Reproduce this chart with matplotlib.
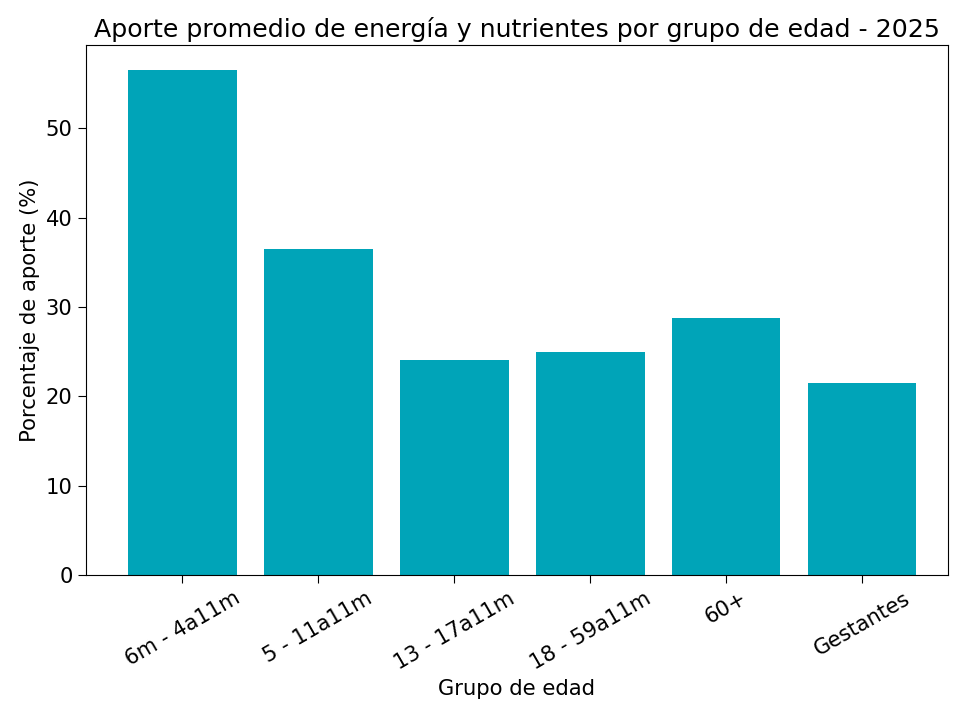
import matplotlib
matplotlib.use("Agg")
from matplotlib import pyplot as plt

grupos = ["6m - 4a11m", "5 - 11a11m", "13 - 17a11m", "18 - 59a11m", "60+", "Gestantes"]
aporte = [56.5, 36.5, 24.1, 25.0, 28.8, 21.5]

fig, ax = plt.subplots(figsize=(9.75, 7.16), dpi=100)
fig.subplots_adjust(left=0.088, right=0.972, top=0.937, bottom=0.197)

ax.bar(grupos, aporte, color="#00a4b8")
ax.set_xlim(-0.71, 5.63)
ax.set_title("Aporte promedio de energía y nutrientes por grupo de edad - 2025", fontsize=18.2)
ax.set_xlabel("Grupo de edad", fontsize=15.2)
ax.set_ylabel("Porcentaje de aporte (%)", fontsize=15.2)
ax.tick_params(axis="both", labelsize=15.2, length=6)
plt.xticks(rotation=30)

plt.savefig("out.png")
